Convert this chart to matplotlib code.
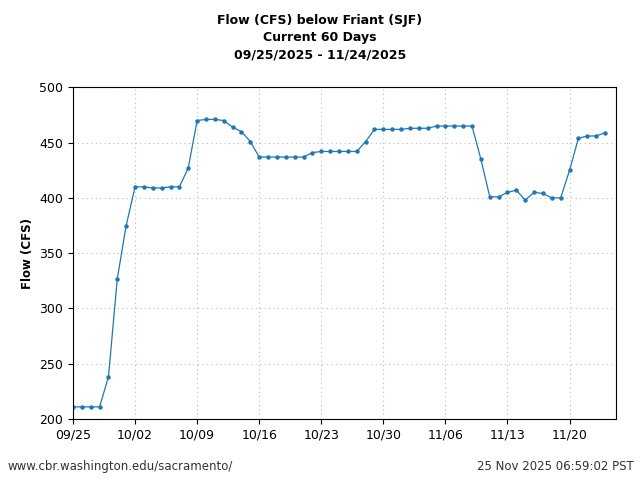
import matplotlib
matplotlib.use("Agg")
import matplotlib.pyplot as plt
import numpy as np
import pandas as pd

start = "2025-09-25"
flow = [211,211,211,211,238,327,375,410,410,409,409,410,410,427,470,471,471,470,464,460,451,
        437,437,437,437,437,437,441,442,442,442,442,442,451,462,462,462,462,463,463,463,
        465,465,465,465,465,435,401,401,405,407,398,405,404,400,400,425,454,456,456,459]
dates = pd.date_range(start, periods=len(flow), freq="D")
tick_dates = pd.date_range(start, periods=9, freq="7D")
tick_labels = [d.strftime("%m/%d") for d in tick_dates]

fig = plt.figure(figsize=(6.4, 4.8), dpi=100)
ax = fig.add_axes([0.114, 0.127, 0.848, 0.691])
ax.plot(dates, flow, color="#1f77b4", lw=0.9, marker="o", ms=2.2)
ax.set_xlim(dates[0], dates[-1] + pd.Timedelta(days=1.2))
ax.set_ylim(200, 500)
ax.set_xticks(tick_dates)
ax.set_xticklabels(tick_labels)
ax.tick_params(labelsize=9)
ax.grid(True, linestyle=(0, (1, 3)), color="#bbbbbb", lw=0.8)
ax.set_ylabel("Flow (CFS)", fontsize=8.5, fontweight="bold")
fig.suptitle("Flow (CFS) below Friant (SJF)\nCurrent 60 Days\n09/25/2025 - 11/24/2025",
             fontsize=9, fontweight="bold", y=0.97, linespacing=1.4)
fig.text(0.012, 0.02, "www.cbr.washington.edu/sacramento/", fontsize=8.5, color="#333333")
fig.text(0.99, 0.02, "25 Nov 2025 06:59:02 PST", fontsize=8.5, color="#333333", ha="right")
fig.savefig("out.png", dpi=100)
